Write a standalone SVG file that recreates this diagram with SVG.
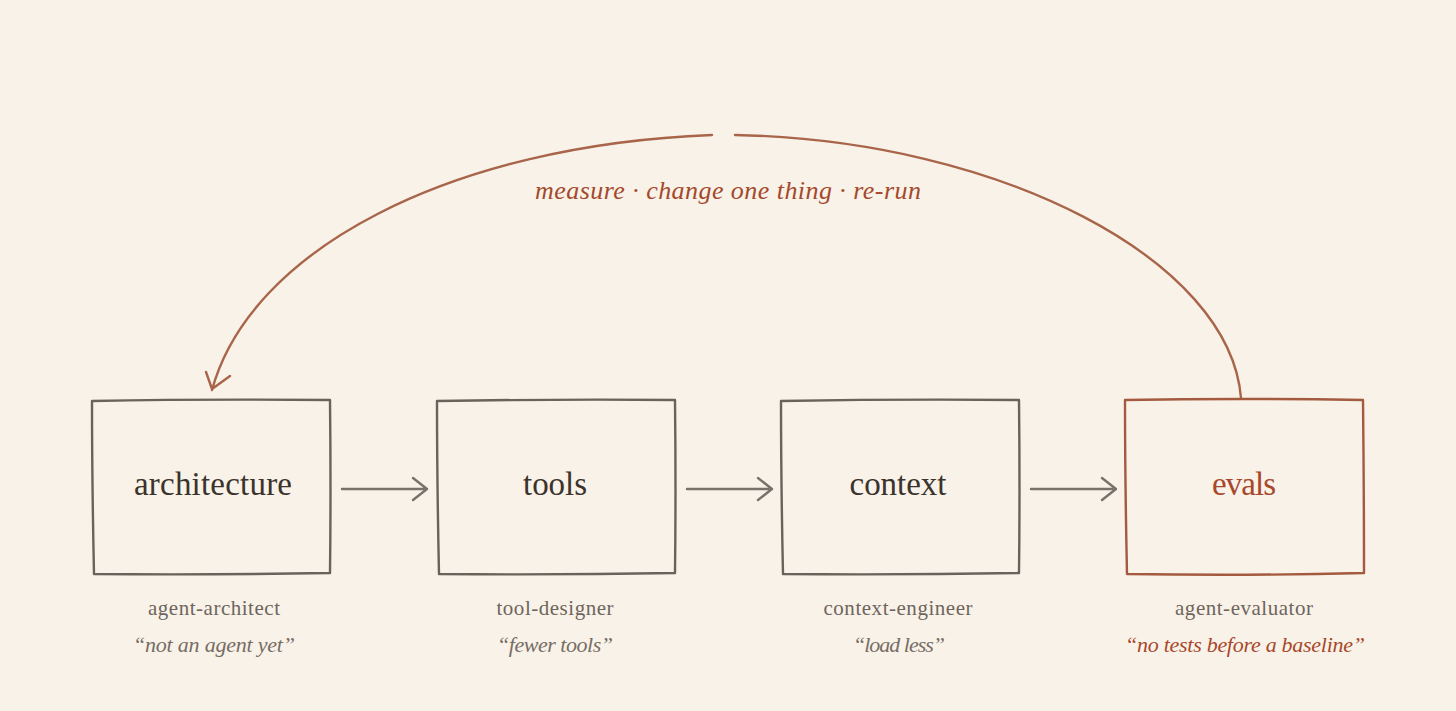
<svg xmlns="http://www.w3.org/2000/svg" width="1456" height="711" viewBox="0 0 1456 711">
<defs>
<style>
.bg{fill:#f9f2e9}
.box{fill:none;stroke:#6a625b;stroke-width:2.4;stroke-linejoin:round;stroke-linecap:round}
.box.hot{stroke:#a35a3e}
.lbl{font-family:"Liberation Serif",serif;font-size:33px;fill:#3b332c;text-anchor:middle}
.lbl.hot{fill:#a8482a}
.role{font-family:"Liberation Serif",serif;font-size:21px;fill:#6e655c;text-anchor:middle}
.quote{font-family:"Liberation Serif",serif;font-style:italic;font-size:22px;fill:#776d64;text-anchor:middle}
.quote.hot{fill:#a8482a}
.flow{fill:none;stroke:#7a716a;stroke-width:2.4;stroke-linecap:round;stroke-linejoin:round}
.loop{fill:none;stroke:#a9654a;stroke-width:2.4;stroke-linecap:round;stroke-linejoin:round}
.cap{font-family:"Liberation Serif",serif;font-style:italic;font-size:26px;fill:#a4492b;text-anchor:middle}
</style>
</defs>
<rect class="bg" x="0" y="0" width="1456" height="711"/>

<g id="connectors">
<path class="flow" d="M342,489 L427,489 M413,478 L427,489 L413,500"/>
<path class="flow" d="M687,489 L772,489 M758,478 L772,489 L758,500"/>
<path class="flow" d="M1031,489 L1116,489 M1102,478 L1116,489 L1102,500"/>
<path class="loop" d="M1241,398 C1230,260 1000,140 735,135"/>
<path class="loop" d="M712,135 C450,145 250,250 212,390 M206,372 L212,389 L230,376"/>
<text class="cap" x="728" y="199" textLength="386">measure · change one thing · re-run</text>
</g>

<g id="architecture">
<path class="box" d="M92,401 Q200,399 330,400 Q331,490 330,573 Q210,575 94,574 Q92,480 92,401 Z"/>
<text class="lbl" x="213" y="495" textLength="158">architecture</text>
<text class="role" x="214" y="615" textLength="132">agent-architect</text>
<text class="quote" x="214" y="652" textLength="162">“not an agent yet”</text>
</g>

<g id="tools">
<path class="box" d="M437,401 Q560,399 675,400 Q676,490 675,573 Q560,575 439,574 Q437,480 437,401 Z"/>
<text class="lbl" x="555" y="495" textLength="64">tools</text>
<text class="role" x="555" y="615" textLength="117">tool-designer</text>
<text class="quote" x="555" y="652" textLength="116">“fewer tools”</text>
</g>

<g id="context">
<path class="box" d="M781,401 Q900,399 1019,400 Q1020,490 1019,573 Q900,575 783,574 Q781,480 781,401 Z"/>
<text class="lbl" x="898" y="495" textLength="97">context</text>
<text class="role" x="898" y="615" textLength="149">context-engineer</text>
<text class="quote" x="899" y="652" textLength="92">“load less”</text>
</g>

<g id="evals">
<path class="box hot" d="M1125,400 Q1240,398 1363,400 Q1364,490 1364,573 Q1245,576 1127,574 Q1125,480 1125,400 Z"/>
<text class="lbl hot" x="1244" y="495" textLength="64">evals</text>
<text class="role" x="1244" y="615" textLength="138">agent-evaluator</text>
<text class="quote hot" x="1245" y="652" textLength="240">“no tests before a baseline”</text>
</g>
</svg>
